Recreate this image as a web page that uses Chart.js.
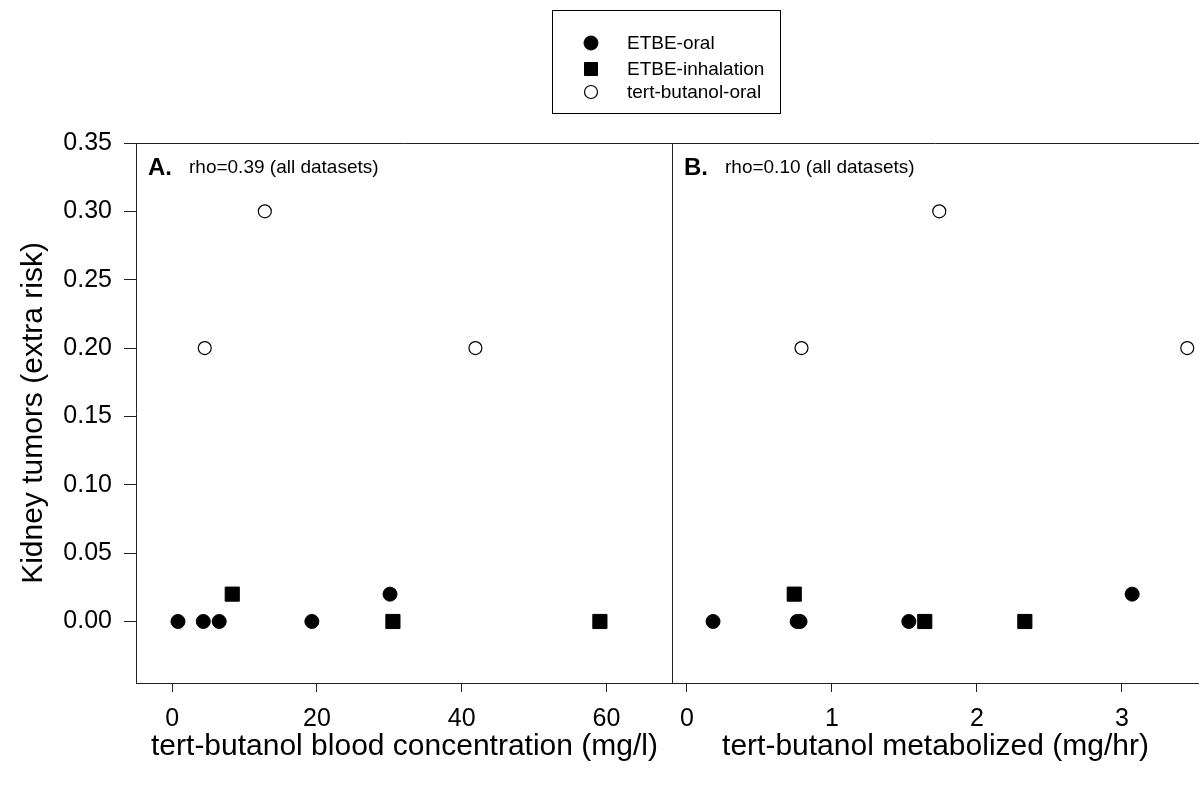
<!DOCTYPE html>
<html>
<head>
<meta charset="utf-8">
<script src="https://cdn.jsdelivr.net/npm/chart.js@4.4.1/dist/chart.umd.min.js"></script>
<style>
  html, body { margin: 0; background: #fff; }
  #wrap { position: relative; width: 1199px; height: 787px; overflow: hidden; }
  #wrap canvas { position: absolute; left: 0; top: 0; }
</style>
</head>
<body>
<div id="wrap">
  <canvas id="panelA" width="1199" height="787"></canvas>
  <canvas id="panelB" width="1199" height="787"></canvas>
</div>
<script>
const SERIES = ['ETBE-oral', 'ETBE-inhalation', 'tert-butanol-oral'];

// Panel A: tert-butanol blood concentration (mg/l)
const A_ORAL_X = [0.8, 4.3, 6.5, 19.3, 30.1];
const A_ORAL_Y = [0, 0, 0, 0, 0.02];
const A_INHAL_X = [8.3, 30.5, 59.1];
const A_INHAL_Y = [0.02, 0, 0];
const A_TBA_X = [4.5, 12.8, 41.9];
const A_TBA_Y = [0.2, 0.3, 0.2];

// Panel B: tert-butanol metabolized (mg/hr)
const B_ORAL_X = [0.18, 0.76, 0.78, 1.53, 3.07];
const B_ORAL_Y = [0, 0, 0, 0, 0.02];
const B_INHAL_X = [0.74, 1.64, 2.33];
const B_INHAL_Y = [0.02, 0, 0];
const B_TBA_X = [0.79, 1.74, 3.45];
const B_TBA_Y = [0.2, 0.3, 0.2];

const Y_TICKS = [0, 0.05, 0.10, 0.15, 0.20, 0.25, 0.30, 0.35];
const A_X_TICKS = [0, 20, 40, 60];
const B_X_TICKS = [0, 1, 2, 3];

const FONT = '"Liberation Sans", Arial, Helvetica, sans-serif';
const INK = '#000';
const AXIS = '#222';

const pairs = (xs, ys) => xs.map((x, i) => ({ x, y: ys[i] }));

const STYLES = [
  { pointStyle: 'circle', pointRadius: 7, backgroundColor: INK, borderColor: INK, borderWidth: 1 },
  { pointStyle: 'rect', pointRadius: 10, backgroundColor: INK, borderColor: INK, borderWidth: 1 },
  { pointStyle: 'circle', pointRadius: 6.5, backgroundColor: '#fff', borderColor: INK, borderWidth: 1.2 }
];

function datasets(groups) {
  return groups.map((g, i) => Object.assign({
    label: SERIES[i],
    data: pairs(g[0], g[1]),
    pointHoverRadius: STYLES[i].pointRadius
  }, STYLES[i]));
}

// closes the plot box on the sides the axes don't draw
const framePlugin = {
  id: 'frame',
  afterDraw(chart, args, opts) {
    const { ctx, chartArea: a } = chart;
    const L = Math.round(a.left) + 0.5, R = Math.round(a.right) - 0.5;
    const T = Math.round(a.top) + 0.5, B = Math.round(a.bottom) + 0.5;
    ctx.save();
    ctx.strokeStyle = AXIS;
    ctx.lineWidth = 1;
    ctx.beginPath();
    (opts.sides || []).forEach(s => {
      if (s === 'top') { ctx.moveTo(L - 0.5, T); ctx.lineTo(R + 1, T); }
      if (s === 'right') { ctx.moveTo(R, T); ctx.lineTo(R, B); }
      if (s === 'left') { ctx.moveTo(L, T); ctx.lineTo(L, B); }
    });
    ctx.stroke();
    ctx.restore();
  }
};

// "A." / "B." tag and the correlation note in the upper left corner
const panelTagPlugin = {
  id: 'panelTag',
  afterDraw(chart, args, opts) {
    if (!opts.letter) return;
    const { ctx, chartArea: a } = chart;
    ctx.save();
    ctx.fillStyle = INK;
    ctx.textBaseline = 'alphabetic';
    ctx.font = 'bold 24px ' + FONT;
    ctx.fillText(opts.letter, a.left + 12, a.top + 32);
    ctx.font = '19px ' + FONT;
    ctx.fillText(opts.note, a.left + 53, a.top + 30);
    ctx.restore();
  }
};

// boxed legend above both panels
const boxLegendPlugin = {
  id: 'boxLegend',
  afterDraw(chart, args, opts) {
    if (!opts.show) return;
    const { ctx } = chart;
    ctx.save();
    ctx.strokeStyle = INK;
    ctx.lineWidth = 1;
    ctx.strokeRect(552.5, 10.5, 228, 103);
    const rows = [43, 69, 92];
    chart.data.datasets.forEach((ds, i) => {
      const cx = 591, cy = rows[i];
      ctx.fillStyle = ds.backgroundColor;
      ctx.strokeStyle = ds.borderColor;
      ctx.lineWidth = ds.borderWidth;
      ctx.beginPath();
      if (ds.pointStyle === 'rect') {
        ctx.rect(cx - 6.5, cy - 6.5, 13, 13);
      } else {
        ctx.arc(cx, cy, ds.pointRadius, 0, Math.PI * 2);
      }
      ctx.fill();
      ctx.stroke();
      ctx.fillStyle = INK;
      ctx.font = '19px ' + FONT;
      ctx.textBaseline = 'middle';
      ctx.fillText(ds.label, 627, cy + 1);
    });
    ctx.restore();
  }
};

Chart.register(framePlugin, panelTagPlugin, boxLegendPlugin);

function xAxis(min, max, ticks, title) {
  return {
    type: 'linear',
    min, max,
    afterBuildTicks: s => { s.ticks = ticks.map(v => ({ value: v })); },
    afterFit: s => { s.height = 104; },
    grid: { drawOnChartArea: false, drawTicks: true, tickLength: 9, tickColor: AXIS, tickWidth: 1 },
    border: { display: true, color: AXIS, width: 1 },
    ticks: { color: INK, padding: 12, font: { family: FONT, size: 25 }, maxRotation: 0,
             callback: v => String(v) },
    title: { display: true, text: title, color: INK, font: { family: FONT, size: 30 },
             padding: { top: 0, bottom: 22 } }
  };
}

function yAxis(show) {
  return {
    type: 'linear',
    min: -0.045, max: 0.35,
    display: show,
    afterBuildTicks: s => { s.ticks = Y_TICKS.map(v => ({ value: v })); },
    afterFit: s => { if (show) s.width = 136; },
    grid: { drawOnChartArea: false, drawTicks: true, tickLength: 12, tickColor: AXIS, tickWidth: 1 },
    border: { display: true, color: AXIS, width: 1 },
    ticks: { color: INK, padding: 12, font: { family: FONT, size: 25 }, callback: v => v.toFixed(2) },
    title: { display: true, text: 'Kidney tumors (extra risk)', color: INK,
             font: { family: FONT, size: 30 }, padding: { top: 16, bottom: 0 } }
  };
}

function panel(id, opts) {
  return new Chart(document.getElementById(id), {
    type: 'scatter',
    data: { datasets: datasets(opts.groups) },
    options: {
      responsive: false,
      animation: false,
      layout: { padding: opts.padding, autoPadding: false },
      scales: { x: opts.x, y: yAxis(opts.showY) },
      plugins: {
        legend: { display: false },
        tooltip: { enabled: false },
        frame: { sides: opts.sides },
        panelTag: { letter: opts.letter, note: opts.note },
        boxLegend: { show: opts.legend }
      }
    }
  });
}

panel('panelA', {
  groups: [[A_ORAL_X, A_ORAL_Y], [A_INHAL_X, A_INHAL_Y], [A_TBA_X, A_TBA_Y]],
  padding: { top: 143, right: 526, bottom: 0, left: 0 },
  x: xAxis(-5, 69.2, A_X_TICKS, 'tert-butanol blood concentration (mg/l)'),
  showY: true,
  sides: ['top', 'right'],
  letter: 'A.', note: 'rho=0.39 (all datasets)',
  legend: true
});

panel('panelB', {
  groups: [[B_ORAL_X, B_ORAL_Y], [B_INHAL_X, B_INHAL_Y], [B_TBA_X, B_TBA_Y]],
  padding: { top: 143, right: 0, bottom: 0, left: 672 },
  x: xAxis(-0.103, 3.531, B_X_TICKS, 'tert-butanol metabolized (mg/hr)'),
  showY: false,
  sides: ['top', 'left'],
  letter: 'B.', note: 'rho=0.10 (all datasets)',
  legend: false
});
</script>
</body>
</html>
